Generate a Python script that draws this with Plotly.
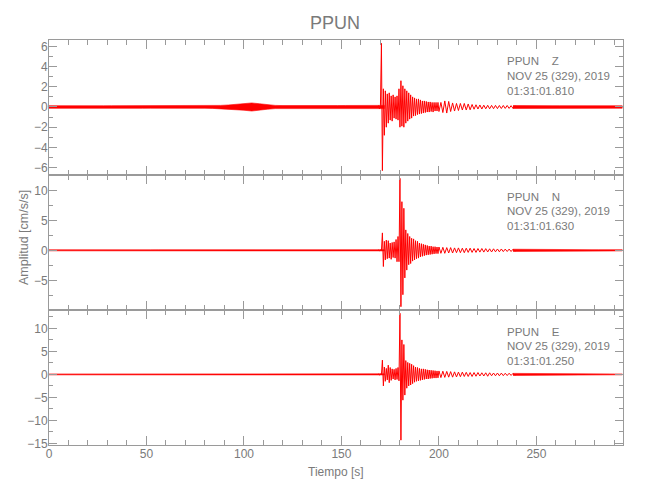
import numpy as np
import plotly.graph_objects as go

# ---------------- data ----------------
station = "PPUN"
components = ["Z", "N", "E"]
date_label = "NOV 25 (329), 2019"
start_times = ["01:31:01.810", "01:31:01.630", "01:31:01.250"]

# quiet parts: noise envelope (half-amplitude, cm/s/s) read every 4 s
t_pre = np.arange(0, 173, 4)        # 0 ... 172 s
t_post = np.arange(238, 296, 4)     # 238 ... 294 s
z_pre_env = [0.13,0.12,0.13,0.13,0.12,0.13,0.13,0.12,0.13,0.13,0.12,
             0.13,0.13,0.12,0.13,0.13,0.12,0.13,0.13,0.12,0.13,0.14,
             0.16,0.20,0.26,0.32,0.40,0.32,0.22,0.16,
             0.14,0.13,0.14,0.14,0.13,0.14,0.15,0.14,0.15,0.15,0.14,0.15,0.16,0.16]
n_pre_env = [0.09,0.08,0.09,0.09,0.08,0.09,0.09,0.08,0.09,0.09,0.08,
             0.09,0.09,0.08,0.09,0.09,0.08,0.09,0.09,0.08,0.09,0.09,
             0.10,0.12,0.14,0.16,0.15,0.12,0.10,0.09,
             0.09,0.08,0.09,0.09,0.08,0.09,0.09,0.08,0.09,0.09,0.09,0.09,0.10,0.10]
e_pre_env = [0.10,0.10,0.11,0.10,0.10,0.11,0.10,0.10,0.11,0.10,0.10,
             0.11,0.10,0.10,0.11,0.10,0.10,0.11,0.10,0.10,0.11,0.11,
             0.12,0.14,0.16,0.18,0.17,0.14,0.12,0.11,
             0.10,0.10,0.11,0.10,0.10,0.11,0.10,0.10,0.11,0.10,0.11,0.11,0.12,0.12]
z_post_env = [0.14,0.15,0.17,0.16,0.14,0.13,0.13,0.12,0.13,0.12,0.12,0.13,0.12,0.12,0.12]
n_post_env = [0.18,0.16,0.15,0.14,0.13,0.12,0.11,0.11,0.10,0.10,0.10,0.10,0.10,0.10,0.10]
e_post_env = [0.22,0.20,0.18,0.16,0.14,0.13,0.12,0.11,0.10,0.10,0.10,0.10,0.10,0.10,0.10]

# strong motion: alternating peak values (cm/s/s) every 0.5 s, then every 1 s in the coda
t_strong = 169 + 0.5 * np.arange(62)    # 169.0 ... 199.5 s
t_coda = np.arange(200, 240, 1)         # 200 ... 239 s
z_strong = [0.15,-0.18,0.20,6.3,-6.3,1.8,-2.8,1.6,-2.0,1.3,
            -1.6,1.4,-1.3,1.1,-1.4,1.2,-1.1,1.0,-1.2,1.1,
            -1.3,1.8,-2.0,2.6,-1.9,2.1,-2.0,1.8,-1.6,1.6,
            -1.4,1.4,-1.2,1.2,-1.1,1.0,-0.9,0.9,-0.85,0.8,
            -0.75,0.8,-0.7,0.7,-0.65,0.6,-0.6,0.6,-0.55,0.55,
            -0.5,0.5,-0.5,0.5,-0.45,0.45,-0.5,0.45,-0.4,0.45,
            -0.4,0.45]
z_coda = [-0.45,0.45,-0.55,0.6,-0.6,0.55,-0.45,0.4,-0.4,0.35,
          -0.35,0.35,-0.3,0.35,-0.3,0.3,-0.28,0.25,-0.22,0.22,
          -0.2,0.2,-0.2,0.18,-0.18,0.17,-0.18,0.16,-0.17,0.16,
          -0.16,0.15,-0.15,0.15,-0.14,0.15,-0.14,0.13,-0.14,0.13]
n_strong = [0.08,-0.08,0.10,-0.12,2.9,-2.7,1.5,-1.6,1.7,-1.4,
            1.6,-1.3,1.2,-1.5,1.3,-1.2,1.4,-1.3,1.8,-1.9,
            2.3,-1.9,12.0,-9.4,8.1,-7.4,7.0,-4.6,3.4,-3.3,
            2.8,-2.4,2.3,-2.2,2.0,-1.8,1.9,-1.6,1.6,-1.4,
            1.5,-1.3,1.2,-1.1,1.1,-1.0,1.0,-0.9,0.9,-0.8,
            0.8,-0.75,0.7,-0.7,0.7,-0.65,0.6,-0.6,0.6,-0.55,
            0.55,-0.55]
n_coda = [0.55,-0.5,0.5,-0.5,0.45,-0.45,0.45,-0.45,0.4,-0.4,
          0.4,-0.4,0.35,-0.4,0.35,-0.35,0.35,-0.35,0.3,-0.35,
          0.3,-0.3,0.3,-0.3,0.28,-0.28,0.25,-0.28,0.25,-0.25,
          0.22,-0.25,0.22,-0.22,0.2,-0.2,0.2,-0.2,0.18,-0.18]
e_strong = [0.10,-0.10,0.10,-0.12,3.1,-2.5,1.6,-1.5,1.3,-1.2,
            2.0,-1.8,1.5,-1.3,1.2,-1.0,1.1,-1.2,1.3,-1.1,
            1.5,-1.4,13.3,-14.3,7.5,-5.6,6.5,-4.5,3.0,-3.0,
            2.6,-2.5,2.4,-2.3,2.2,-2.0,1.9,-1.7,1.6,-1.5,
            1.5,-1.4,1.3,-1.3,1.2,-1.2,1.2,-1.1,1.1,-1.0,
            1.0,-1.0,0.95,-0.9,0.9,-0.85,0.85,-0.8,0.8,-0.8,
            0.75,-0.75]
e_coda = [0.75,-0.7,0.7,-0.65,0.65,-0.6,0.6,-0.6,0.55,-0.55,
          0.5,-0.5,0.5,-0.45,0.45,-0.45,0.4,-0.45,0.4,-0.4,
          0.4,-0.35,0.35,-0.35,0.35,-0.4,0.35,-0.3,0.3,-0.3,
          0.3,-0.3,0.28,-0.28,0.25,-0.25,0.25,-0.22,0.22,-0.22]

x_ticks = [0, 50, 100, 150, 200, 250]
x_range = [0, 294.4]
y_ranges = [[-6.73, 6.63], [-9.95, 12.55], [-15.35, 14.0]]
y_dticks = [2, 5, 5]
y_minor = [1, 2.5, 2.5]

# ---------------- figure ----------------
pre_envs = [z_pre_env, n_pre_env, e_pre_env]
post_envs = [z_post_env, n_post_env, e_post_env]
waves = [z_strong + z_coda, n_strong + n_coda, e_strong + e_coda]
t_wave = np.concatenate([t_strong, t_coda])

FONT = "Liberation Sans, Arial, sans-serif"
AX = "#9a9a9a"
TXT = "#7a7a7a"
RED = "#ff0000"

W, H = 650, 500
OFF = 8  # page body margin of the html page
# plot area in page pixels
PX0, PX1, PY0, PY1 = 49, 623, 40, 445
L, R = PX0 - OFF, W - (PX1 - OFF)
T, B = PY0 - OFF, H - (PY1 - OFF)
pw, ph = PX1 - PX0, PY1 - PY0


def px(xp):
    return (xp - PX0) / pw


def py(yp):
    return (PY1 - yp) / ph


domains = [[2/3, 1.0], [1/3, 2/3], [0.0, 1/3]]

fig = go.Figure()
for i in range(3):
    sfx = "" if i == 0 else str(i + 1)
    for tt, env in ((t_pre, pre_envs[i]), (t_post, post_envs[i])):
        env = np.asarray(env)
        fig.add_trace(go.Scatter(
            x=np.concatenate([tt, tt[::-1]]),
            y=np.concatenate([env, -env[::-1]]),
            mode="lines", fill="toself", fillcolor=RED,
            line=dict(color=RED, width=0.6),
            xaxis="x" + sfx, yaxis="y" + sfx, showlegend=False, hoverinfo="skip"))
    fig.add_trace(go.Scatter(x=t_wave, y=waves[i], mode="lines",
                             line=dict(color=RED, width=1),
                             xaxis="x" + sfx, yaxis="y" + sfx,
                             showlegend=False, hoverinfo="skip"))

layout = dict(width=W, height=H, margin=dict(l=L, r=R, t=T, b=B),
              paper_bgcolor="white", plot_bgcolor="white",
              font=dict(family=FONT, color=TXT, size=12),
              showlegend=False)

for i in range(3):
    sfx = "" if i == 0 else str(i + 1)
    layout["xaxis" + sfx] = dict(
        domain=[0, 1], anchor="y" + sfx, range=x_range, automargin=False,
        tickvals=x_ticks, ticks="inside", ticklen=9, tickwidth=1, tickcolor=AX,
        showline=True, linecolor=AX, linewidth=1, mirror="ticks",
        minor=dict(ticks="inside", dtick=10, tick0=0, ticklen=5, tickcolor=AX, showgrid=False),
        showgrid=False, zeroline=False, showticklabels=(i == 2),
        tickfont=dict(size=12, color=TXT, family=FONT), ticklabelstandoff=-2)
    layout["yaxis" + sfx] = dict(
        domain=domains[i], anchor="x" + sfx, range=y_ranges[i], automargin=False,
        dtick=y_dticks[i], tick0=0, ticks="inside", ticklen=8, tickwidth=1, tickcolor=AX,
        showline=True, linecolor=AX, linewidth=1, mirror="ticks",
        minor=dict(ticks="inside", dtick=y_minor[i], tick0=0, ticklen=4, tickcolor=AX, showgrid=False),
        showgrid=False, zeroline=False,
        tickfont=dict(size=12, color=TXT, family=FONT), ticklabelstandoff=-2)

annotations = []
panel_tops = [PY0, PY0 + ph / 3, PY0 + 2 * ph / 3]
for i in range(3):
    lines = [station + "\u00a0\u00a0\u00a0\u00a0" + components[i], date_label, start_times[i]]
    for j, txt in enumerate(lines):
        ypage = panel_tops[i] + 21.5 + 14.5 * j
        annotations.append(dict(text=txt, xref="paper", yref="paper",
                                x=px(505), y=py(ypage),
                                xanchor="left", yanchor="middle", showarrow=False,
                                font=dict(size=11.5, color=TXT, family=FONT)))
annotations.append(dict(text="Tiempo [s]", xref="paper", yref="paper",
                        x=px(335.5), y=py(471.5), xanchor="center", yanchor="middle",
                        showarrow=False, font=dict(size=12, color=TXT, family=FONT)))
annotations.append(dict(text="Amplitud [cm/s/s]", xref="paper", yref="paper",
                        x=px(24), y=py(238), textangle=-90,
                        xanchor="center", yanchor="middle",
                        showarrow=False, font=dict(size=12.5, color=TXT, family=FONT)))
layout["annotations"] = annotations
layout["title"] = dict(text=station, x=px(335), xref="paper", xanchor="center",
                       y=1 - (22.5 - OFF) / H, yanchor="middle",
                       font=dict(size=18, color=TXT, family=FONT))

fig.update_layout(**layout)
fig.write_html("out.html")
